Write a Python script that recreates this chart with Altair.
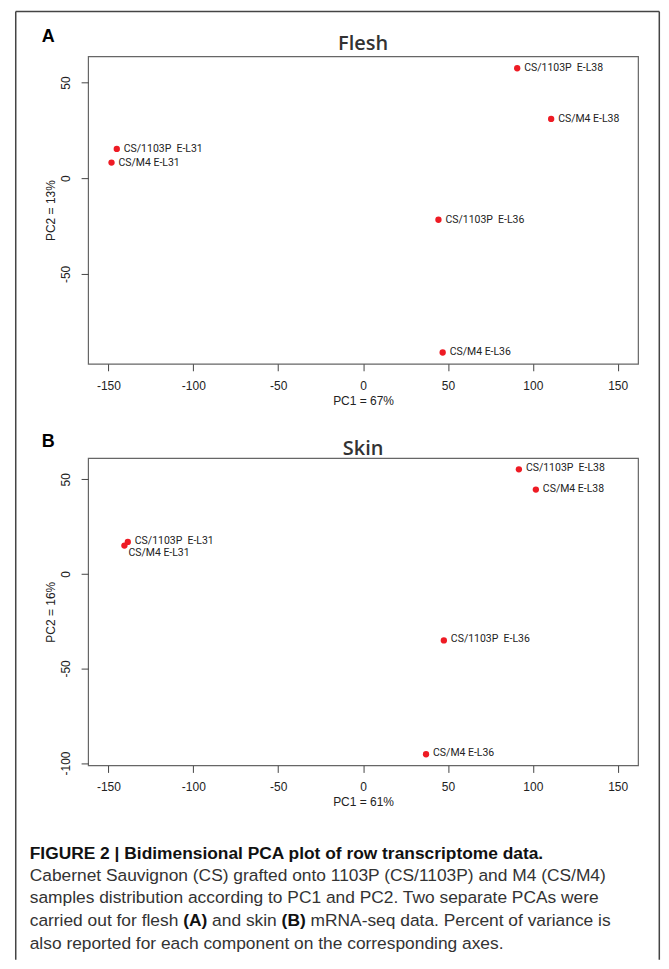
import altair as alt
import pandas as pd

# ---------------- data ----------------
samples = ["CS/1103P\u00a0 E-L38", "CS/M4 E-L38", "CS/1103P\u00a0 E-L31",
           "CS/M4 E-L31", "CS/1103P\u00a0 E-L36", "CS/M4 E-L36"]
flesh_pc1 = [90.8, 110.8, -145.1, -148.2, 44.4, 46.9]
flesh_pc2 = [57.5, 31.0, 15.3, 8.2, -21.7, -91.1]
skin_pc1 = [91.8, 101.8, -138.6, -140.6, 47.6, 37.1]
skin_pc2 = [55.3, 44.6, 16.9, 15.0, -35.2, -95.4]

x_ticks = [-150, -100, -50, 0, 50, 100, 150]
flesh_y_ticks = [-50, 0, 50]
skin_y_ticks = [-100, -50, 0, 50]
panel_titles = ["Flesh", "Skin"]
panel_letters = ["A", "B"]
x_titles = ["PC1 = 67%", "PC1 = 61%"]
y_titles = ["PC2 = 13%", "PC2 = 16%"]

caption_title = "FIGURE 2 | Bidimensional PCA plot of row transcriptome data."
caption_line2 = "Cabernet Sauvignon (CS) grafted onto 1103P (CS/1103P) and M4 (CS/M4)"
caption_line3 = "samples distribution according to PC1 and PC2. Two separate PCAs were"
caption_line4 = ["carried out for flesh", "(A)", "and skin", "(B)",
                 "mRNA-seq data. Percent of variance is"]
caption_line5 = "also reported for each component on the corresponding axes."

# ---------------- layout / style ----------------
PLOT_W = 551
PLOT_H = 308
GAP = 94.4
RED = "#ee1b24"
LBL_FONT = "Roboto"
AX_FONT = "Liberation Sans"
CAP_FS = 17.4

# Arial / Liberation Sans advance widths (1/1000 em), for placing bold pieces
AW = {" ": 278, "a": 556, "c": 500, "d": 556, "e": 556, "f": 278, "h": 556,
      "i": 222, "k": 500, "l": 222, "n": 556, "o": 556, "r": 333, "s": 500,
      "t": 278, "u": 556, "(": 333, ")": 333, "A": 722, "B": 722}


def tw(s):
    return sum(AW[c] for c in s) * CAP_FS / 1000.0


HYPHEN_LABEL = "toString(datum.value)"


def panel(pc1, pc2, ydom, yticks, idx, title_dy, letter_dy, special=None):
    df = pd.DataFrame({"sample": samples, "pc1": pc1, "pc2": pc2})
    base = alt.Chart(df)
    x = alt.X("pc1:Q",
              scale=alt.Scale(domain=[-162, 162], nice=False, zero=False),
              axis=alt.Axis(values=x_ticks, title=x_titles[idx],
                            labelExpr=HYPHEN_LABEL,
                            labelPadding=9.5, titlePadding=4))
    y = alt.Y("pc2:Q",
              scale=alt.Scale(domain=ydom, nice=False, zero=False),
              axis=alt.Axis(values=yticks, title=y_titles[idx], labelAngle=270,
                            labelExpr=HYPHEN_LABEL,
                            labelAlign="center", labelBaseline="bottom",
                            labelPadding=8.7, titlePadding=2))
    pts = base.mark_circle(size=40, color=RED, opacity=1).encode(x=x, y=y)
    txt_kw = dict(align="left", baseline="middle", font=LBL_FONT,
                  fontSize=10.5, color="#222")
    if special is None:
        labels = base.mark_text(dx=7, **txt_kw).encode(
            x="pc1:Q", y="pc2:Q", text="sample:N")
        layers = [pts, labels]
    else:
        labels = base.mark_text(dx=7, dy=-1, **txt_kw).encode(
            x="pc1:Q", y="pc2:Q", text="sample:N"
        ).transform_filter(alt.datum.sample != special)
        labels2 = base.mark_text(dx=4, dy=7, **txt_kw).encode(
            x="pc1:Q", y="pc2:Q", text="sample:N"
        ).transform_filter(alt.datum.sample == special)
        layers = [pts, labels, labels2]
    ttl = alt.Chart(pd.DataFrame({"t": [panel_titles[idx]]})).mark_text(
        font="Open Sans", fontSize=20, fontWeight=600, color="#333",
        align="center", baseline="middle").encode(
        text="t:N", x=alt.value(PLOT_W / 2), y=alt.value(title_dy))
    let = alt.Chart(pd.DataFrame({"t": [panel_letters[idx]]})).mark_text(
        font=AX_FONT, fontSize=18, fontWeight="bold", color="#000",
        align="center", baseline="middle").encode(
        text="t:N", x=alt.value(-40), y=alt.value(letter_dy))
    return alt.layer(*layers, ttl, let).properties(width=PLOT_W, height=PLOT_H)


flesh = panel(flesh_pc1, flesh_pc2, [-97.0, 63.7], flesh_y_ticks, 0, -12.6, -19.8)
skin = panel(skin_pc1, skin_pc2, [-101.3, 61.3], skin_y_ticks, 1, -9.3, -16.0,
             special="CS/M4 E-L31")

# ---------------- caption ----------------
CAP_X = -58.5
cap_y = [-5.8, 16.6, 38.6, 61.9, 84.2]


def cap_text(s, x, y, bold=False, color="#333"):
    return alt.Chart(pd.DataFrame({"t": [s]})).mark_text(
        font=AX_FONT, fontSize=CAP_FS, fontWeight="bold" if bold else "normal",
        color=color, align="left", baseline="middle").encode(
        text="t:N", x=alt.value(x), y=alt.value(y))


x1 = CAP_X + tw(caption_line4[0] + " ")
x2 = x1 + tw(caption_line4[1])
x3 = x2 + tw(" " + caption_line4[2] + " ")
x4 = x3 + tw(caption_line4[3])
cap_layers = [
    cap_text(caption_title, CAP_X, cap_y[0], bold=True, color="#111"),
    cap_text(caption_line2, CAP_X, cap_y[1]),
    cap_text(caption_line3, CAP_X, cap_y[2]),
    cap_text(caption_line4[0], CAP_X, cap_y[3]),
    cap_text(caption_line4[1], x1, cap_y[3], bold=True, color="#111"),
    cap_text(caption_line4[2], x2 + tw(" "), cap_y[3]),
    cap_text(caption_line4[3], x3, cap_y[3], bold=True, color="#111"),
    cap_text(caption_line4[4], x4 + tw(" "), cap_y[3]),
    cap_text(caption_line5, CAP_X, cap_y[4]),
]

# outer frame (decoration), relative to caption origin
ORIGIN_X = 87.5
ORIGIN_Y = 54.3 + 2 * (PLOT_H + GAP)
fr = alt.Chart(pd.DataFrame({"k": [0]}))
FL, FR, FT, FB = 15 - ORIGIN_X, 659.8 - ORIGIN_X, 9.3 - ORIGIN_Y, 959.5 - ORIGIN_Y
frame = [
    fr.mark_rule(color="#444", strokeWidth=1.5).encode(
        x=alt.value(FL), y=alt.value(FT), y2=alt.value(FB)),
    fr.mark_rule(color="#444", strokeWidth=1.5).encode(
        x=alt.value(FR), y=alt.value(FT), y2=alt.value(FB)),
    fr.mark_rule(color="#444", strokeWidth=1.5).encode(
        x=alt.value(FL), x2=alt.value(FR), y=alt.value(FT)),
]

caption = alt.layer(*frame, *cap_layers).properties(
    width=PLOT_W, height=90, view=alt.ViewBackground(stroke="transparent"))

chart = alt.vconcat(flesh, skin, caption, spacing=GAP, bounds="flush").configure(
    padding={"left": 6.25, "top": 0.55, "right": 0, "bottom": 0},
    background="white",
).configure_view(
    stroke="#666", strokeWidth=1.2
).configure_axis(
    domain=False, grid=False, ticks=True, tickColor="#444", tickSize=7,
    tickWidth=1, labelFont=AX_FONT, labelFontSize=12, labelColor="#222",
    titleFont=AX_FONT, titleFontSize=12, titleFontWeight="normal",
    titleColor="#222",
)

chart.save("out.html", embed_options={"renderer": "svg", "actions": False})
